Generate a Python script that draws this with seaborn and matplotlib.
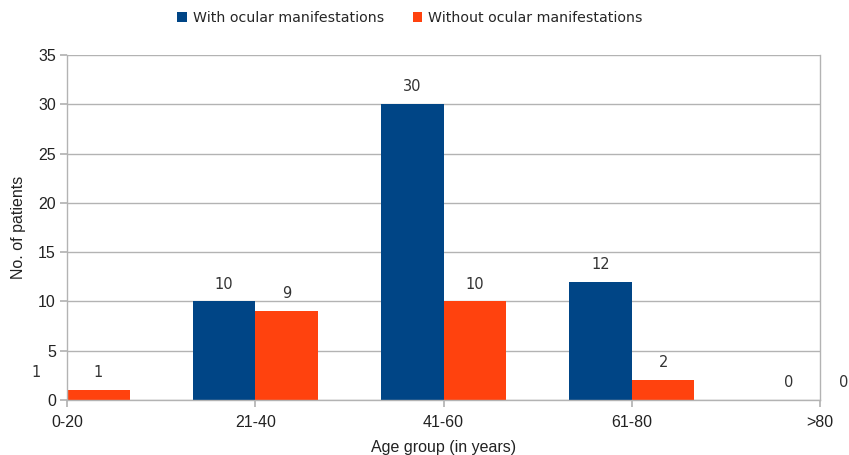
import matplotlib
matplotlib.use("Agg")
import matplotlib.pyplot as plt
import seaborn as sns
import pandas as pd
from matplotlib.patches import Patch

age_groups = ["0-20", "21-40", "41-60", "61-80", ">80"]
with_ocular = [1, 10, 30, 12, 0]
without_ocular = [1, 9, 10, 2, 0]
series_names = ["With ocular manifestations", "Without ocular manifestations"]
colors = ["#004586", "#FF420E"]

df = pd.DataFrame({
    "age": age_groups * 2,
    "count": with_ocular + without_ocular,
    "series": [series_names[0]] * len(age_groups) + [series_names[1]] * len(age_groups),
})

sns.set_theme(style="white")
plt.rcParams["font.family"] = ["Liberation Sans", "DejaVu Sans"]

fig = plt.figure(figsize=(8.49, 4.55), dpi=100)
ax = fig.add_axes([67/849, 55/455, (820-67)/849, (400-55)/455])

sns.barplot(data=df, x="age", y="count", hue="series", palette=colors,
            width=0.666, ax=ax, saturation=1, legend=False, errorbar=None)

labels = []
for p in ax.patches:
    p.set_edgecolor("none")
    p.set_clip_on(True)
    h = p.get_height()
    xc = p.get_x() + p.get_width() / 2
    t = ax.annotate(f"{int(round(h))}", xy=(xc, h), xytext=(0, 12.5),
                    textcoords="offset points", ha="center", va="center",
                    fontsize=10.5, color="#333333", family="DejaVu Sans",
                    annotation_clip=False)
    labels.append(t)

ax.set_xlim(0, 4)
ax.set_ylim(0, 35)
ax.set_yticks(range(0, 36, 5))
ax.yaxis.grid(True, color="#b3b3b3", linewidth=1)
ax.set_axisbelow(True)
for s in ax.spines.values():
    s.set_color("#b3b3b3")
    s.set_linewidth(1)
ax.spines["top"].set_visible(False)
ax.tick_params(axis="y", which="both", left=True, length=5, color="#b3b3b3",
               labelsize=11.5, labelcolor="#222222", pad=3)
ax.tick_params(axis="x", bottom=True, length=5, color="#b3b3b3",
               labelsize=11.5, labelcolor="#222222", pad=6)
ax.set_xlabel("Age group (in years)", fontsize=11.5, color="#222222", labelpad=7)
ax.set_ylabel("No. of patients", fontsize=11.5, color="#222222", labelpad=9)

handles = [Patch(facecolor=c, edgecolor="none") for c in colors]
fig.legend(handles, series_names, loc="center", bbox_to_anchor=(410/849, 1 - 18/455),
           ncol=2, frameon=False, handlelength=0.7, handleheight=0.7,
           handletextpad=0.4, columnspacing=2.0,
           prop={"family": "DejaVu Sans", "size": 10.2})

# keep data labels that would fall past the right edge partly visible
fig.canvas.draw()
renderer = fig.canvas.get_renderer()
W = fig.bbox.width
for t in labels:
    bb = t.get_window_extent(renderer)
    if bb.x1 > W - 1:
        t.set_position((-(bb.x1 - (W - 1)) * 72 / fig.dpi, 12.5))

fig.savefig("out.png", dpi=100, facecolor="white")
